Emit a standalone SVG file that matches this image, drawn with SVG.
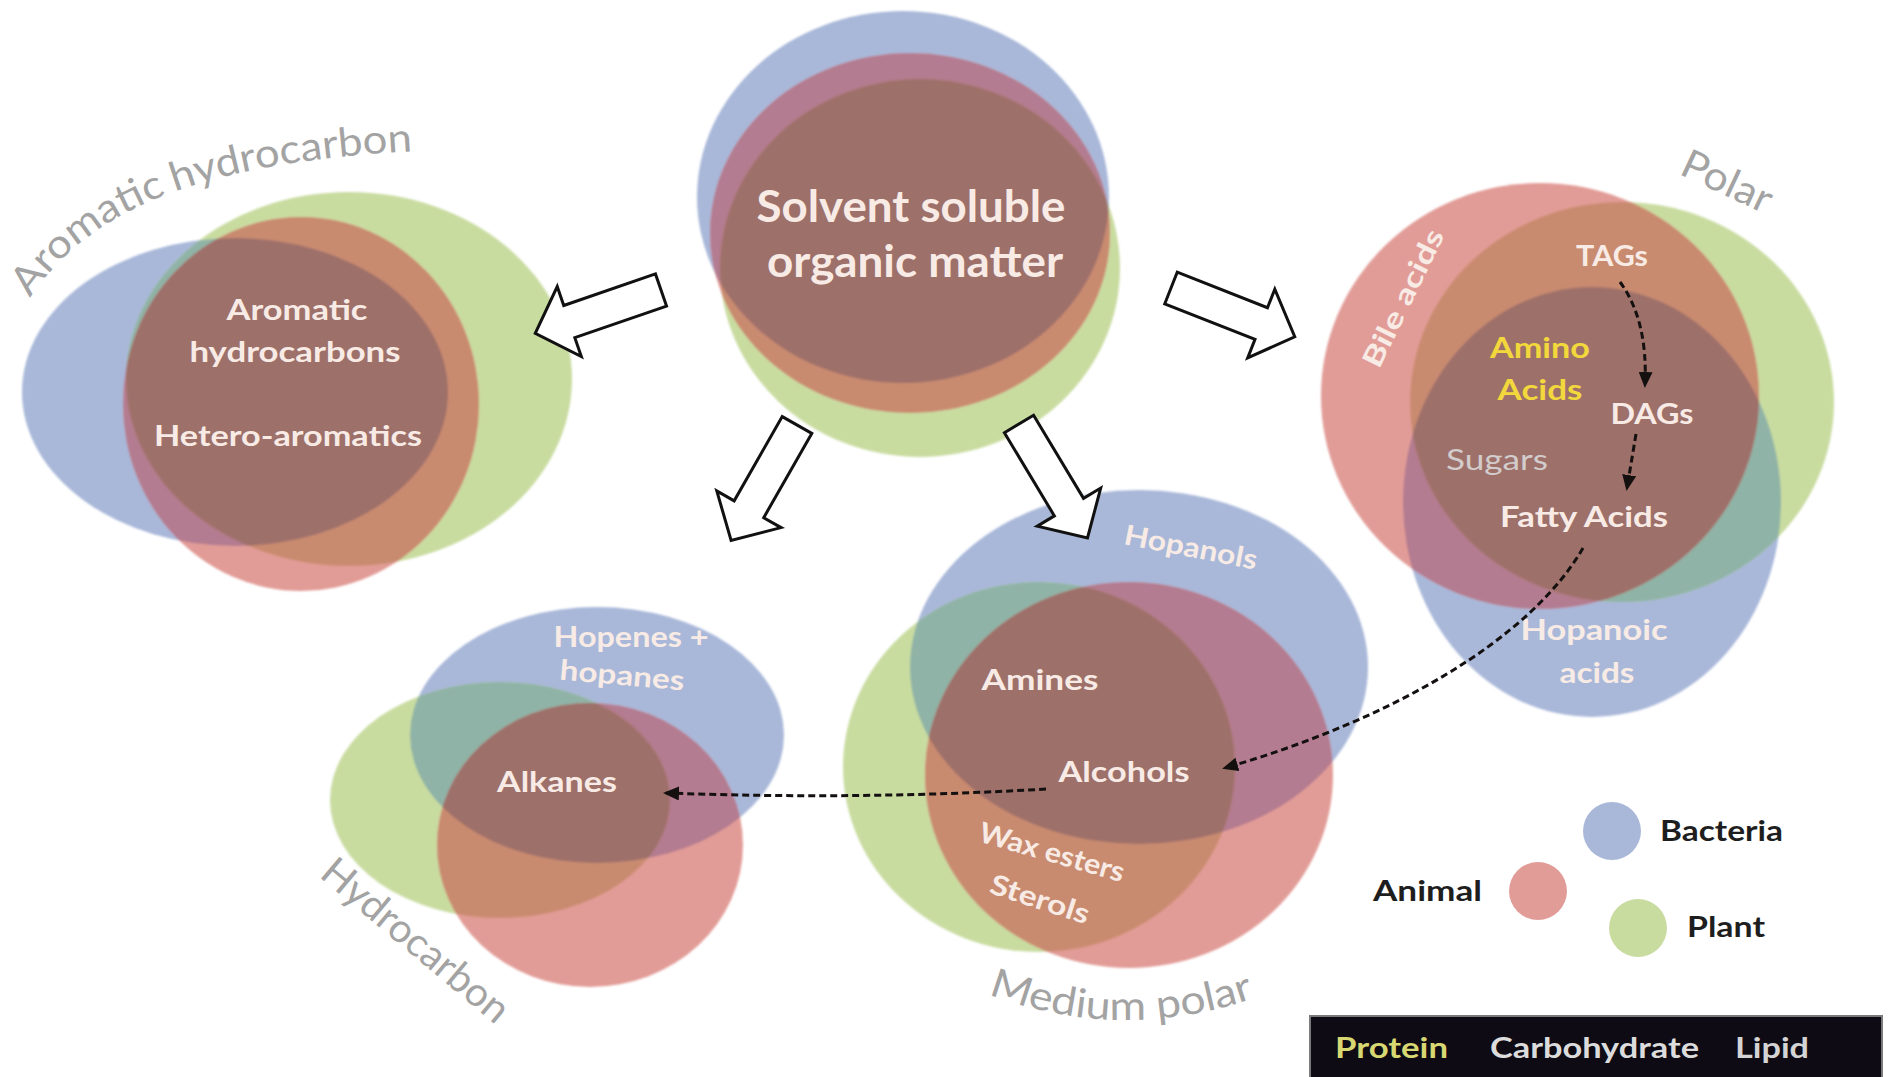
<svg xmlns="http://www.w3.org/2000/svg" width="1889" height="1077" viewBox="0 0 1889 1077">
<style>
.b{fill:#a9b8d9}.g{fill:#c9dca0}.r{fill:#e29c97}
.bg{fill:#8fb3a6}.rb{fill:#b47c90}.rg{fill:#c98b6f}.rgb{fill:#9e706b}
.lbl{font-family:Lato,"Open Sans",sans-serif;font-weight:700;fill:#f8ebe5;font-size:28px;text-anchor:middle}
.big{font-size:44px}
.cat{font-family:Lato,"Open Sans",sans-serif;font-weight:400;fill:#a3a3a3;font-size:40px}
.leg{font-family:Lato,"Open Sans",sans-serif;font-weight:700;fill:#1e1e1e;font-size:28px}
.bar{font-family:Lato,"Open Sans",sans-serif;font-weight:700;font-size:28px}
.blk{fill:#fff;stroke:#111;stroke-width:3;stroke-linejoin:miter}
.dash{fill:none;stroke:#141010;stroke-width:3;stroke-dasharray:7 4;marker-end:url(#ah)}
.soft{filter:url(#soft)}
</style>
<defs>
<filter id="soft" x="-5%" y="-5%" width="110%" height="110%"><feGaussianBlur stdDeviation="1.3"/></filter>
<marker id="ah" markerUnits="userSpaceOnUse" markerWidth="16" markerHeight="14" refX="13" refY="7" orient="auto"><path d="M0,0 L16,7 L0,14 Z" fill="#141010"/></marker>
<path id="blockArrow" d="M0,-17 H97 V-37 L133,0 L97,37 V17 H0 Z"/>
<clipPath id="t-b"><ellipse cx="903" cy="197" rx="206" ry="186"/></clipPath>
<clipPath id="t-g"><ellipse cx="920" cy="268" rx="200" ry="189"/></clipPath>
<clipPath id="a-b"><ellipse cx="235" cy="392" rx="213" ry="154"/></clipPath>
<clipPath id="a-g"><ellipse cx="349" cy="379" rx="223" ry="187"/></clipPath>
<clipPath id="p-b"><ellipse cx="1592" cy="502" rx="189" ry="215"/></clipPath>
<clipPath id="p-g"><ellipse cx="1622" cy="402" rx="212" ry="200"/></clipPath>
<clipPath id="m-b"><ellipse cx="1139" cy="667" rx="229" ry="177"/></clipPath>
<clipPath id="m-g"><ellipse cx="1039" cy="767" rx="196" ry="185"/></clipPath>
<clipPath id="h-b"><ellipse cx="597" cy="735" rx="187" ry="128"/></clipPath>
<clipPath id="h-g"><ellipse cx="500" cy="800" rx="170" ry="118"/></clipPath>
<path id="arcArom" d="M30,298 C80,225 170,160 440,150"/>
<path id="arcMed" d="M988,994 Q1125,1046 1266,994"/>
</defs>
<rect width="1889" height="1077" fill="#ffffff"/>

<!-- Top: Solvent soluble organic matter -->
<g id="node-solvent">
<g class="soft">
<ellipse class="b" cx="903" cy="197" rx="206" ry="186"/>
<ellipse class="g" cx="920" cy="268" rx="200" ry="189"/>
<ellipse class="r" cx="910" cy="233" rx="200" ry="180"/>
<ellipse class="bg" clip-path="url(#t-b)" cx="920" cy="268" rx="200" ry="189"/>
<ellipse class="rb" clip-path="url(#t-b)" cx="910" cy="233" rx="200" ry="180"/>
<ellipse class="rg" clip-path="url(#t-g)" cx="910" cy="233" rx="200" ry="180"/>
<g clip-path="url(#t-b)"><ellipse class="rgb" clip-path="url(#t-g)" cx="910" cy="233" rx="200" ry="180"/></g>
</g>
<text class="lbl big" x="911" y="222" textLength="309" lengthAdjust="spacingAndGlyphs">Solvent soluble</text>
<text class="lbl big" x="915" y="277" textLength="296" lengthAdjust="spacingAndGlyphs">organic matter</text>
</g>

<!-- Aromatic hydrocarbon -->
<g id="node-aromatic">
<g class="soft">
<ellipse class="b" cx="235" cy="392" rx="213" ry="154"/>
<ellipse class="g" cx="349" cy="379" rx="223" ry="187"/>
<ellipse class="r" cx="301" cy="404" rx="178" ry="187"/>
<ellipse class="bg" clip-path="url(#a-b)" cx="349" cy="379" rx="223" ry="187"/>
<ellipse class="rb" clip-path="url(#a-b)" cx="301" cy="404" rx="178" ry="187"/>
<ellipse class="rg" clip-path="url(#a-g)" cx="301" cy="404" rx="178" ry="187"/>
<g clip-path="url(#a-b)"><ellipse class="rgb" clip-path="url(#a-g)" cx="301" cy="404" rx="178" ry="187"/></g>
</g>
<text class="lbl" x="297" y="320" textLength="141" lengthAdjust="spacingAndGlyphs">Aromatic</text>
<text class="lbl" x="295" y="362" textLength="211" lengthAdjust="spacingAndGlyphs">hydrocarbons</text>
<text class="lbl" x="288" y="446" textLength="268" lengthAdjust="spacingAndGlyphs">Hetero-aromatics</text>
<text class="cat"><textPath href="#arcArom" startOffset="0" textLength="174" lengthAdjust="spacingAndGlyphs">Aromatic</textPath></text>
<text class="cat"><textPath href="#arcArom" startOffset="183" textLength="242" lengthAdjust="spacingAndGlyphs">hydrocarbon</textPath></text>
</g>

<!-- Polar -->
<g id="node-polar">
<g class="soft">
<ellipse class="b" cx="1592" cy="502" rx="189" ry="215"/>
<ellipse class="g" cx="1622" cy="402" rx="212" ry="200"/>
<ellipse class="r" cx="1540" cy="396" rx="219" ry="213"/>
<ellipse class="bg" clip-path="url(#p-b)" cx="1622" cy="402" rx="212" ry="200"/>
<ellipse class="rb" clip-path="url(#p-b)" cx="1540" cy="396" rx="219" ry="213"/>
<ellipse class="rg" clip-path="url(#p-g)" cx="1540" cy="396" rx="219" ry="213"/>
<g clip-path="url(#p-b)"><ellipse class="rgb" clip-path="url(#p-g)" cx="1540" cy="396" rx="219" ry="213"/></g>
</g>
<text class="lbl" transform="translate(1403,298) rotate(-64)" x="0" y="10" textLength="150" lengthAdjust="spacingAndGlyphs">Bile acids</text>
<text class="lbl" x="1612" y="266" textLength="72" lengthAdjust="spacingAndGlyphs">TAGs</text>
<text class="lbl" x="1540" y="358" textLength="100" lengthAdjust="spacingAndGlyphs" style="fill:#f2d83c">Amino</text>
<text class="lbl" x="1540" y="400" textLength="85" lengthAdjust="spacingAndGlyphs" style="fill:#f2d83c">Acids</text>
<text class="lbl" x="1652" y="424" textLength="83" lengthAdjust="spacingAndGlyphs">DAGs</text>
<text class="lbl" x="1497" y="470" textLength="102" lengthAdjust="spacingAndGlyphs" style="fill:#d2cccc;font-weight:400">Sugars</text>
<text class="lbl" x="1584" y="527" textLength="168" lengthAdjust="spacingAndGlyphs">Fatty Acids</text>
<text class="lbl" x="1594" y="640" textLength="147" lengthAdjust="spacingAndGlyphs">Hopanoic</text>
<text class="lbl" x="1597" y="683" textLength="75" lengthAdjust="spacingAndGlyphs">acids</text>
<text class="cat" transform="translate(1727,182) rotate(25)" x="0" y="13" text-anchor="middle" textLength="96" lengthAdjust="spacingAndGlyphs">Polar</text>
</g>

<!-- Medium polar -->
<g id="node-medium">
<g class="soft">
<ellipse class="b" cx="1139" cy="667" rx="229" ry="177"/>
<ellipse class="g" cx="1039" cy="767" rx="196" ry="185"/>
<ellipse class="r" cx="1129" cy="775" rx="204" ry="193"/>
<ellipse class="bg" clip-path="url(#m-b)" cx="1039" cy="767" rx="196" ry="185"/>
<ellipse class="rb" clip-path="url(#m-b)" cx="1129" cy="775" rx="204" ry="193"/>
<ellipse class="rg" clip-path="url(#m-g)" cx="1129" cy="775" rx="204" ry="193"/>
<g clip-path="url(#m-b)"><ellipse class="rgb" clip-path="url(#m-g)" cx="1129" cy="775" rx="204" ry="193"/></g>
</g>
<text class="lbl" transform="translate(1191,547) rotate(11)" x="0" y="10" textLength="135" lengthAdjust="spacingAndGlyphs">Hopanols</text>
<text class="lbl" x="1040" y="690" textLength="117" lengthAdjust="spacingAndGlyphs">Amines</text>
<text class="lbl" x="1124" y="782" textLength="131" lengthAdjust="spacingAndGlyphs">Alcohols</text>
<text class="lbl" transform="translate(1052,852) rotate(16)" x="0" y="10" textLength="150" lengthAdjust="spacingAndGlyphs">Wax esters</text>
<text class="lbl" transform="translate(1040,899) rotate(18)" x="0" y="10" textLength="103" lengthAdjust="spacingAndGlyphs">Sterols</text>
<text class="cat"><textPath href="#arcMed" textLength="272" lengthAdjust="spacingAndGlyphs">Medium polar</textPath></text>
</g>

<!-- Hydrocarbon -->
<g id="node-hydrocarbon">
<g class="soft">
<ellipse class="b" cx="597" cy="735" rx="187" ry="128"/>
<ellipse class="g" cx="500" cy="800" rx="170" ry="118"/>
<ellipse class="r" cx="590" cy="845" rx="153" ry="142"/>
<ellipse class="bg" clip-path="url(#h-b)" cx="500" cy="800" rx="170" ry="118"/>
<ellipse class="rb" clip-path="url(#h-b)" cx="590" cy="845" rx="153" ry="142"/>
<ellipse class="rg" clip-path="url(#h-g)" cx="590" cy="845" rx="153" ry="142"/>
<g clip-path="url(#h-b)"><ellipse class="rgb" clip-path="url(#h-g)" cx="590" cy="845" rx="153" ry="142"/></g>
</g>
<text class="lbl" x="631" y="647" textLength="155" lengthAdjust="spacingAndGlyphs">Hopenes +</text>
<text class="lbl" transform="translate(622,677) rotate(5)" x="0" y="8" textLength="125" lengthAdjust="spacingAndGlyphs">hopanes</text>
<text class="lbl" x="557" y="792" textLength="120" lengthAdjust="spacingAndGlyphs">Alkanes</text>
<text class="cat" transform="translate(416,940) rotate(40)" x="0" y="14" text-anchor="middle" textLength="232" lengthAdjust="spacingAndGlyphs">Hydrocarbon</text>
</g>

<!-- Legend -->
<g id="legend">
<circle class="b" cx="1612" cy="831" r="29"/>
<text class="leg" x="1660" y="841" textLength="123" lengthAdjust="spacingAndGlyphs">Bacteria</text>
<circle class="r" cx="1538" cy="891" r="29"/>
<text class="leg" x="1373" y="901" textLength="109" lengthAdjust="spacingAndGlyphs">Animal</text>
<circle class="g" cx="1638" cy="928" r="29"/>
<text class="leg" x="1687" y="937" textLength="78" lengthAdjust="spacingAndGlyphs">Plant</text>
</g>
<g id="legend-bar">
<rect x="1310" y="1016" width="572" height="64" fill="#0e0b14" stroke="#7a7a7a" stroke-width="2"/>
<text class="bar" x="1335" y="1058" textLength="113" lengthAdjust="spacingAndGlyphs" fill="#d8d872">Protein</text>
<text class="bar" x="1490" y="1058" textLength="209" lengthAdjust="spacingAndGlyphs" fill="#dcdcdc">Carbohydrate</text>
<text class="bar" x="1735" y="1058" textLength="74" lengthAdjust="spacingAndGlyphs" fill="#d4d4d4">Lipid</text>
</g>

<!-- Connectors -->
<g id="connectors">
<use href="#blockArrow" class="blk" transform="translate(661,290) rotate(161)"/>
<use href="#blockArrow" class="blk" transform="translate(1171,288) rotate(21.5)"/>
<use href="#blockArrow" class="blk" transform="translate(797,425) rotate(119.7)"/>
<use href="#blockArrow" class="blk" transform="translate(1019,424) rotate(59)"/>
<path class="dash" d="M1620,282 Q1648,320 1645,385"/>
<path class="dash" d="M1636,434 L1627,488"/>
<path class="dash" d="M1583,548 C1530,640 1390,720 1225,768"/>
<path class="dash" d="M1046,789 Q860,800 666,793"/>
</g>
</svg>
